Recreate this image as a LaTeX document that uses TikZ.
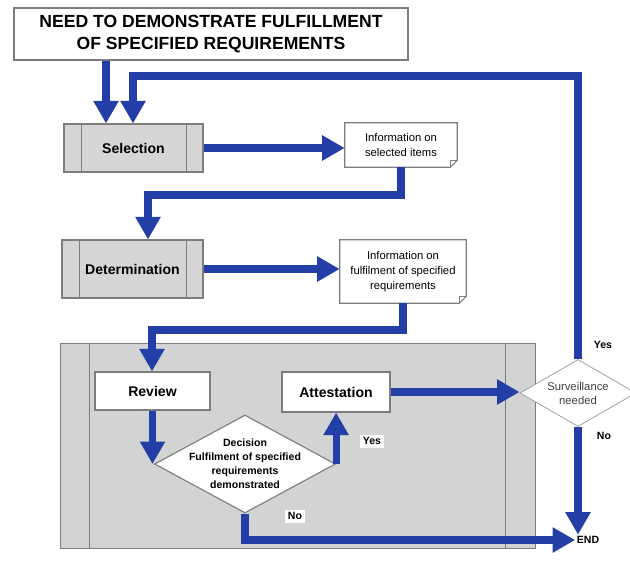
\documentclass[tikz,border=0pt]{standalone}
\usepackage{fontspec}
\setmainfont{Liberation Sans}
\usetikzlibrary{arrows.meta,shapes.geometric}
\definecolor{flowblue}{RGB}{36,62,168}
\definecolor{boxgray}{RGB}{214,214,214}
\definecolor{zonegray}{RGB}{210,211,211}
\definecolor{edgegray}{RGB}{125,125,125}
\begin{document}
\begin{tikzpicture}[x=0.025cm,y=-0.025cm,
    flow/.style={draw=flowblue,line width=5pt,-{Triangle[width=17pt,length=16pt]}},
    procbox/.style={draw=edgegray,fill=boxgray,line width=0.8pt,font=\bfseries\fontsize{10}{12}\selectfont},
    whitebox/.style={draw=edgegray,fill=white,line width=0.8pt,font=\bfseries\fontsize{10}{12}\selectfont},
    infobox/.style={align=center,font=\fontsize{8}{10.5}\selectfont},
    tag/.style={fill=white,inner sep=2pt,font=\bfseries\fontsize{7.5}{9}\selectfont}]

    \useasboundingbox (0,0) rectangle (630,561);

    % Zone grise
    \node[draw=edgegray,fill=zonegray,minimum width=11.875cm,minimum height=5.125cm] (zone) at (297.5,445.5) {};
    \draw[edgegray] ([xshift=0.75cm]zone.north west) -- ([xshift=0.75cm]zone.south west);
    \draw[edgegray] ([xshift=-0.75cm]zone.north east) -- ([xshift=-0.75cm]zone.south east);

    % Boites
    \node[draw=edgegray,fill=white,line width=0.8pt,minimum width=9.85cm,minimum height=1.3cm,align=center,
          font=\bfseries\fontsize{12.5}{15.5}\selectfont] (need) at (211,34) {NEED TO DEMONSTRATE FULFILLMENT\\OF SPECIFIED REQUIREMENTS};
    \node[procbox,minimum width=3.475cm,minimum height=1.2cm] (sel) at (133.5,148) {Selection};
    \node[procbox,minimum width=3.525cm,minimum height=1.45cm] (det) at (132.5,269) {Determination};
    \foreach \b in {sel,det}{
        \draw[edgegray,line width=0.8pt] ([xshift=0.45cm]\b.north west) -- ([xshift=0.45cm]\b.south west);
        \draw[edgegray,line width=0.8pt] ([xshift=-0.42cm]\b.north east) -- ([xshift=-0.42cm]\b.south east);
    }
    \node[infobox,minimum width=2.8cm,minimum height=1.1cm] (selinfo) at (401,145) {Information on\\selected items};
    \node[infobox,minimum width=3.15cm,minimum height=1.575cm] (detinfo) at (403,271.5) {Information on\\fulfilment of specified\\requirements};
    \foreach \b in {selinfo,detinfo}{
        \draw[edgegray,line width=0.8pt] (\b.north west) -- (\b.north east) -- ([yshift=5pt]\b.south east)
            -- ([xshift=-5pt]\b.south east) -- (\b.south west) -- cycle;
        \draw[edgegray,line width=0.5pt] ([xshift=-5pt]\b.south east) -- ([xshift=-5pt,yshift=5pt]\b.south east) -- ([yshift=5pt]\b.south east);
    }
    \node[whitebox,minimum width=2.875cm,minimum height=0.95cm] (rev) at (152.5,391) {Review};
    \node[whitebox,minimum width=2.7cm,minimum height=1cm] (att) at (336,392) {Attestation};

    % Losanges
    \node[diamond,draw=edgegray,fill=white,line width=0.8pt,inner sep=0pt,minimum width=4.525cm,minimum height=2.45cm,
          label={[align=center,font=\bfseries\fontsize{7.5}{10}\selectfont]center:Decision\\Fulfilment of specified\\requirements\\demonstrated}] (dec) at (245,464) {};
    \node[diamond,draw=gray!70,fill=white,line width=0.6pt,inner sep=0pt,minimum width=2.9cm,minimum height=1.675cm,
          label={[align=center,text=darkgray,font=\fontsize{8}{10}\selectfont]center:Surveillance\\needed}] (surv) at (578,393) {};
    \node[font=\bfseries\fontsize{7.5}{9}\selectfont,inner sep=1pt] (fin) at (588,540) {END};

    % Points
    \coordinate (ka) at (106,0);
    \coordinate (kb) at (133,76);
    \coordinate (kc) at (148,195);
    \coordinate (kd) at (152,330);

    % Fleches
    \draw[flow] (need.south -| ka) -- (sel.north -| ka);
    \draw[flow] (surv.north) |- (kb) -- (sel.north -| kb);
    \draw[flow] (sel.east) -- (sel.east -| selinfo.west);
    \draw[flow] (selinfo.south) |- (kc) -- (det.north -| kc);
    \draw[flow] (det.east) -- (det.east -| detinfo.west);
    \draw[flow] (detinfo.south) |- (kd) -- (rev.north -| kd);
    \draw[flow] (rev.south) -- (rev.south |- dec.west);
    \draw[flow] (dec.east) -- (dec.east |- att.south);
    \draw[flow] (att.east) -- (att.east -| surv.west);
    \draw[flow] (dec.south) |- (fin.west);
    \draw[flow] (surv.south) -- (surv.south |- fin.north);

    % Labels
    \node[tag] (yes1) at (372,441) {Yes};
    \node[tag] (no1) at (295,516) {No};
    \node[tag] (yes2) at (603,345) {Yes};
    \node[tag] (no2) at (604,436) {No};
\end{tikzpicture}
\end{document}
